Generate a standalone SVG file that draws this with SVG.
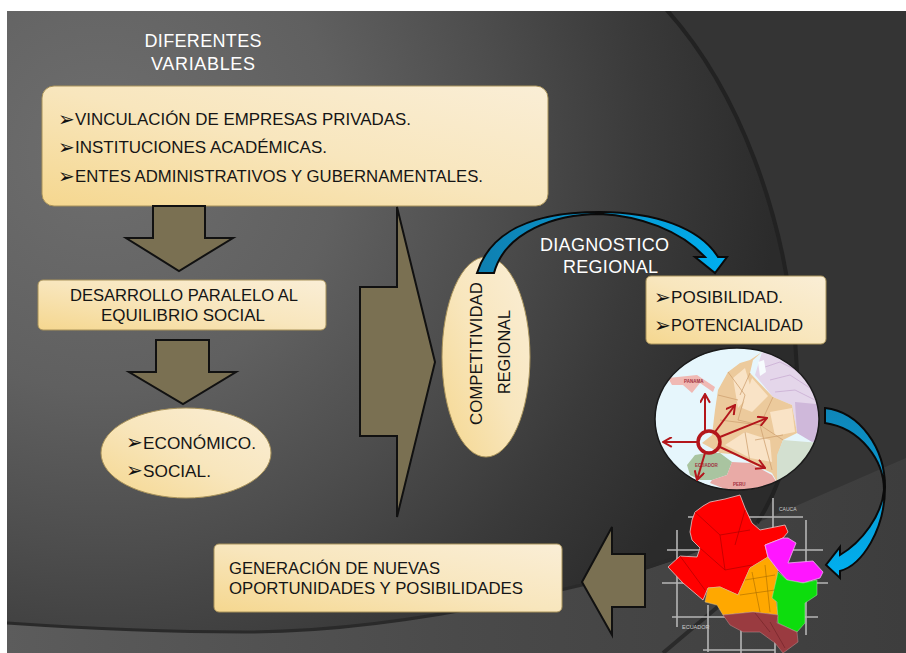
<svg xmlns="http://www.w3.org/2000/svg" width="906" height="653" viewBox="0 0 906 653">
<style>
.box{fill:url(#cream);stroke:#a8925a;stroke-width:1}
.block{fill:#7a7052;stroke:#111;stroke-width:2;stroke-linejoin:miter}
.curve{stroke:#0a0a0a;stroke-width:2;stroke-linejoin:miter}
.t{font-family:"Liberation Sans",Arial,sans-serif;font-size:17px;fill:#151515}
.b{font-family:"DejaVu Sans",sans-serif;font-size:20px;fill:#111}
.w{font-family:"Liberation Sans",Arial,sans-serif;font-size:18px;fill:#fff}
.red{stroke:#b3161b;stroke-width:2;fill:none;marker-end:url(#open)}
.grid{stroke:#b5b5b5;stroke-width:1.6;fill:none}
.lab{font-family:"Liberation Sans",Arial,sans-serif;font-size:4.5px;font-weight:bold;fill:#a03040}
</style>
<defs>
<linearGradient id="cream" x1="0" y1="1" x2="1" y2="0"><stop offset="0" stop-color="#f5d78f"/><stop offset=".5" stop-color="#f8e6bd"/><stop offset="1" stop-color="#faeed6"/></linearGradient>
<radialGradient id="bg" gradientUnits="userSpaceOnUse" cx="100" cy="150" r="800"><stop offset="0" stop-color="#6e6e6e"/><stop offset=".3" stop-color="#606060"/><stop offset=".5" stop-color="#4d4d4d"/><stop offset=".68" stop-color="#3a3a3a"/><stop offset=".85" stop-color="#2b2b2b"/></radialGradient>
<linearGradient id="low" x1="0" y1="0" x2="1" y2="0"><stop offset="0" stop-color="#5c5c5c"/><stop offset=".5" stop-color="#4a4a4a"/><stop offset="1" stop-color="#3d3d3d"/></linearGradient>
<linearGradient id="blue1" x1="0" y1="0" x2="1" y2="0"><stop offset="0" stop-color="#0f7fb0"/><stop offset="1" stop-color="#00aeef"/></linearGradient>
<linearGradient id="blue2" x1="0" y1="0" x2="0" y2="1"><stop offset="0" stop-color="#0f86b8"/><stop offset="1" stop-color="#00b0f0"/></linearGradient>
<marker id="open" viewBox="0 0 10 10" refX="9" refY="5" markerWidth="5.5" markerHeight="5.5" orient="auto" markerUnits="strokeWidth"><path d="M1,0.5L9,5L1,9.5" fill="none" stroke="#b3161b" stroke-width="1.8"/></marker>
<clipPath id="cir"><ellipse cx="737" cy="419" rx="82" ry="71"/></clipPath>
<clipPath id="panel"><rect x="7" y="11" width="899" height="642"/></clipPath>
<filter id="soft" x="-5%" y="-5%" width="110%" height="110%"><feGaussianBlur stdDeviation=".45"/></filter>
</defs>
<rect width="906" height="653" fill="#fff"/>
<g id="background" clip-path="url(#panel)">
<rect x="7" y="11" width="899" height="642" fill="#343434"/>
<path d="M7,11L665,11C735,85 790,215 797,370C797,430 785,480 757,523C720,545 660,570 582,585C470,612 350,632 245,632C160,632 80,628 7,623Z" fill="url(#bg)"/>
<path d="M7,623C80,628 160,632 245,632C350,632 470,612 582,585C660,570 720,545 757,523L906,458L906,653L7,653Z" fill="url(#low)"/>
<path d="M665,8C735,85 790,215 797,370C797,430 785,480 757,523" fill="none" stroke="#222" stroke-width="4"/>
<path d="M7,623C80,628 160,632 245,632C350,632 470,612 582,585C650,570 700,550 757,523" fill="none" stroke="#2a2a2a" stroke-width="3"/>
<path d="M663,653L720,605" fill="none" stroke="#2a2a2a" stroke-width="4"/>
</g>
<text class="w" x="203" y="47" text-anchor="middle" textLength="117">DIFERENTES</text>
<text class="w" x="203" y="70" text-anchor="middle" textLength="104">VARIABLES</text>
<text class="w" x="604.500" y="251" text-anchor="middle" textLength="129">DIAGNOSTICO</text>
<text class="w" x="610.500" y="273" text-anchor="middle" textLength="95">REGIONAL</text>
<g id="n1"><rect class="box" x="42" y="86" width="506" height="120" rx="12"/>
<text class="b" x="58" y="126">➢</text><text class="t" x="75" y="125" textLength="336" lengthAdjust="spacingAndGlyphs">VINCULACIÓN DE EMPRESAS PRIVADAS.</text>
<text class="b" x="58" y="154">➢</text><text class="t" x="75" y="153" textLength="252" lengthAdjust="spacingAndGlyphs">INSTITUCIONES ACADÉMICAS.</text>
<text class="b" x="58" y="183">➢</text><text class="t" x="75" y="182" textLength="408" lengthAdjust="spacingAndGlyphs">ENTES ADMINISTRATIVOS Y GUBERNAMENTALES.</text></g>
<g id="n2"><rect class="box" x="38" y="280" width="288" height="50" rx="5"/>
<text class="t" x="70" y="301" textLength="228" lengthAdjust="spacingAndGlyphs">DESARROLLO PARALELO AL</text>
<text class="t" x="101" y="321" textLength="164" lengthAdjust="spacingAndGlyphs">EQUILIBRIO SOCIAL</text></g>
<g id="n3"><ellipse class="box" cx="186" cy="453" rx="85" ry="45"/>
<text class="b" x="126" y="449">➢</text><text class="t" x="143" y="449" textLength="113" lengthAdjust="spacingAndGlyphs">ECONÓMICO.</text>
<text class="b" x="126" y="477">➢</text><text class="t" x="143" y="477" textLength="68" lengthAdjust="spacingAndGlyphs">SOCIAL.</text></g>
<g id="n4"><ellipse class="box" cx="486" cy="357" rx="44" ry="100"/>
<text class="t" transform="translate(482,425) rotate(-90)" textLength="143" lengthAdjust="spacingAndGlyphs">COMPETITIVIDAD</text>
<text class="t" transform="translate(510,394) rotate(-90)" textLength="84" lengthAdjust="spacingAndGlyphs">REGIONAL</text></g>
<g id="n5"><rect class="box" x="646" y="276" width="180" height="68" rx="5"/>
<text class="b" x="654" y="304">➢</text><text class="t" x="671" y="303" textLength="112" lengthAdjust="spacingAndGlyphs">POSIBILIDAD.</text>
<text class="b" x="654" y="332">➢</text><text class="t" x="671" y="331" textLength="132" lengthAdjust="spacingAndGlyphs">POTENCIALIDAD</text></g>
<g id="n6"><rect class="box" x="214" y="544" width="348" height="68" rx="5"/>
<text class="t" x="229" y="574" textLength="211" lengthAdjust="spacingAndGlyphs">GENERACIÓN DE NUEVAS</text>
<text class="t" x="229" y="594" textLength="294" lengthAdjust="spacingAndGlyphs">OPORTUNIDADES Y POSIBILIDADES</text></g>
<g id="map-colombia">
<g clip-path="url(#cir)">
<rect x="650" y="345" width="175" height="150" fill="#e6f6fc"/>
<g filter="url(#soft)">
<path fill="#e4d6ea" d="M755,375L773,397L792,405L797,433L812,440L825,420L820,385L790,358L762,352Z"/>
<path fill="#cfb8da" d="M795,402L825,405L825,440L812,442L797,433Z"/>
<path fill="none" stroke="#c5a8d0" stroke-width=".7" d="M762,368L780,362L800,372M770,380L790,375L810,388M775,392L795,390L815,400"/>
<path fill="#f6fbfd" d="M758,362L764,360L766,372L760,376Z"/>
<path fill="#f0b9b4" d="M668,378L697,375L715,387L713,392L700,383L692,393L683,385L672,385Z"/>
<path fill="#ecca9c" d="M762,352L750,360L740,363L728,372L718,390L715,410L712,435L702,443L720,453L740,455L750,463L772,473L777,482L777,457L783,440L797,433L792,405L773,397L750,373L753,360Z"/>
<path fill="#f9e3c6" d="M733,378L745,368L752,392L738,408ZM770,412L792,408L795,432L775,436ZM725,445L745,432L770,440L772,462L750,458ZM752,378L768,396L752,412L742,408Z"/>
<path fill="none" stroke="#cfa272" stroke-width=".8" d="M728,372L745,395L738,420L760,425L783,440M750,373L740,395M773,397L760,425M720,420L760,425L772,470M745,432L750,462M718,395L738,400M755,440L783,435"/>
<path fill="#a9c4a0" d="M687,465L695,455L707,453L720,453L732,462L727,475L712,480L700,480L690,475Z"/>
<path fill="#e9aaa6" d="M732,462L750,463L772,475L777,483L740,495L710,483L712,480L727,475Z"/>
<path fill="#d3e0d0" d="M777,455L783,440L820,443L800,470L777,482Z"/>
</g>
<text class="lab" x="684" y="383">PANAMA</text>
<text class="lab" x="695" y="467">ECUADOR</text>
<text class="lab" x="733" y="486">PERU</text>
</g>
<ellipse cx="737" cy="419" rx="82" ry="71" fill="none" stroke="#1a1a1a" stroke-width="1.5"/>
<circle cx="709" cy="442" r="11" fill="none" stroke="#b3161b" stroke-width="3.500"/>
<path class="red" d="M705,431L705,394"/><path class="red" d="M698,442L663,442"/><path class="red" d="M715,432L735,405"/><path class="red" d="M720,437L767,418"/><path class="red" d="M720,447L765,468"/><path class="red" d="M705,453L697,480"/>
</g>
<g id="map-region">
<path class="grid" d="M773,498V528M677,530V627M806,520V635M708,605V652M741,623V653M775,640V653M688,517H803M667,550H823M662,583H828M672,617H818M703,650H775"/>
<g filter="url(#soft)">
<path fill="#ff0000" stroke="#e8c8c8" stroke-width=".8" d="M668,567L680,556L697,557L700,548L692,540L690,532L692,520L695,512L703,506L710,502L725,499L740,495L745,508L752,523L760,530L785,525L788,532L783,538L765,545L768,557L750,568L738,595L720,587L708,588L703,600L683,583Z"/>
<path fill="#ffa800" stroke="#e0c080" stroke-width=".5" d="M768,557L778,570L775,593L778,615L753,612L723,615L717,605L705,602L708,588L720,587L738,595L750,568Z"/>
<path fill="#ff19ff" stroke="#f0b0f0" stroke-width=".8" d="M765,545L783,538L788,538L796,543L788,563L813,561L823,572L820,578L803,583L787,580L778,570L768,557Z"/>
<path fill="#11dd11" stroke="#a0e0a0" stroke-width=".5" d="M778,572L787,580L803,583L817,580L817,595L805,603L805,623L797,632L778,623L777,602L772,598Z"/>
<path fill="#9a3b40" stroke="#c09090" stroke-width=".5" d="M723,615L753,612L778,615L777,623L797,632L798,642L783,653L775,643L760,632L743,632L730,625Z"/>
<path fill="none" stroke="#b00000" stroke-width=".7" d="M695,512L720,535L750,530M720,535L725,570L700,548M725,570L752,565M680,556L705,590M745,510L735,545"/>
<path fill="none" stroke="#a86c00" stroke-width=".6" d="M752,572L760,612M765,565L770,612M740,595L775,590M745,580L775,575"/>
<path fill="none" stroke="#6e2025" stroke-width=".6" d="M755,613L770,632M770,622L785,648"/>
</g>
<text font-family="Liberation Sans,Arial,sans-serif" font-size="5px" fill="#ccc" x="779" y="511">CAUCA</text>
<text font-family="Liberation Sans,Arial,sans-serif" font-size="5.500px" fill="#ccc" x="682" y="629">ECUADOR</text>
</g>
<g id="connectors">
<path class="block" d="M153,206L205,206L205,238L233,238L179,271L126,238L153,238Z"/>
<path class="block" d="M156,340L209,340L209,372L236,372L183,404L129,372L156,372Z"/>
<path class="block" d="M397,207L397,287L360,287L360,436L397,436L397,517L435,362Z"/>
<path class="block" d="M582,582L612,527L612,554L645,554L645,607L612,607L612,635Z"/>
<path class="curve" fill="url(#blue1)" d="M477,273C490,232 530,212 600,212C655,212 700,228 718,257L727,257L715,273L695,257L705,257C680,230 640,216 600,214C555,214 505,232 494,273Z"/>
<path class="curve" fill="url(#blue2)" d="M825,408C860,412 885,448 885,487C885,530 862,565 840,571L840,578L826,565L840,547L840,555C862,542 882,515 884,490C884,460 860,428 825,423Z"/>
</g>
</svg>
